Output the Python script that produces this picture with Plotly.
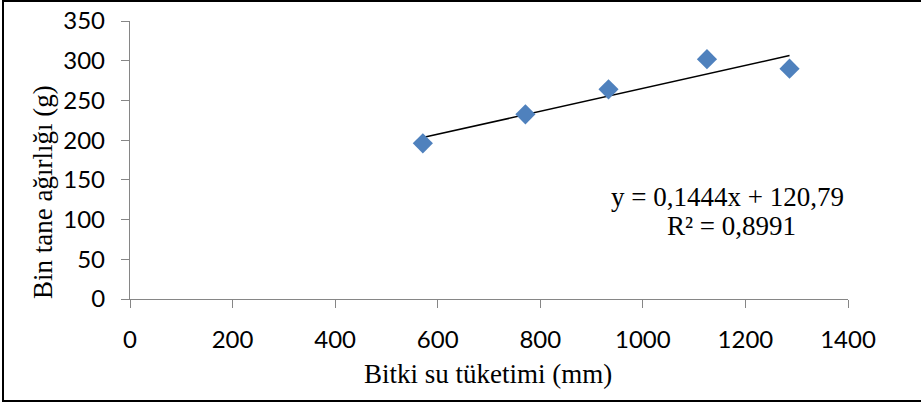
import plotly.graph_objects as go

# Water use vs. thousand-grain weight
water_use = [571, 771, 933, 1125, 1286]          # Bitki su tüketimi (mm)
grain_weight = [196, 232.5, 264, 302, 290]       # Bin tane ağırlığı (g)

# Linear trend reported on the chart
slope = 0.1444
intercept = 120.79
r_squared = 0.8991

x_ticks = [0, 200, 400, 600, 800, 1000, 1200, 1400]
y_ticks = [0, 50, 100, 150, 200, 250, 300, 350]

W, H = 921, 403
ml, mr, mt, mb = 130, 73, 21, 104
pw, ph = W - ml - mr, H - mt - mb

def px_x(p):
    return (p - ml) / pw

def px_y(p):
    return (H - mb - p) / ph

trend_x = [min(water_use), max(water_use)]
trend_y = [slope * v + intercept for v in trend_x]

fig = go.Figure()
fig.add_trace(go.Scatter(
    x=trend_x, y=trend_y, mode="lines",
    line=dict(color="black", width=1.6),
    hoverinfo="skip", showlegend=False,
))
fig.add_trace(go.Scatter(
    x=water_use, y=grain_weight, mode="markers",
    marker=dict(symbol="diamond", size=15.5, color="#4F81BD",
                line=dict(width=0)),
    showlegend=False,
))

def fmt(v, nd):
    return f"{v:.{nd}f}".replace(".", ",")

serif = dict(family="Liberation Serif", size=27, color="black")

fig.add_annotation(
    x=px_x(727), y=px_y(197), xref="paper", yref="paper",
    text=f"y = {fmt(slope, 4)}x + {fmt(intercept, 2)}",
    showarrow=False, xanchor="center", yanchor="middle", font=serif,
)
fig.add_annotation(
    x=px_x(731), y=px_y(226), xref="paper", yref="paper",
    text=f"R² = {fmt(r_squared, 4)}",
    showarrow=False, xanchor="center", yanchor="middle", font=serif,
)

# Axis titles
fig.add_annotation(
    x=px_x(488), y=px_y(374), xref="paper", yref="paper",
    text="Bitki su tüketimi (mm)",
    showarrow=False, xanchor="center", yanchor="middle", font=serif,
)
fig.add_annotation(
    x=px_x(43), y=px_y(192), xref="paper", yref="paper",
    text="Bin tane ağırlığı (g)", textangle=-90,
    showarrow=False, xanchor="center", yanchor="middle", font=serif,
)

# Outer chart frame
fig.add_shape(
    type="rect", xref="paper", yref="paper",
    x0=px_x(3), x1=px_x(940), y0=px_y(401), y1=px_y(1),
    line=dict(color="black", width=2), fillcolor="rgba(0,0,0,0)",
    layer="below",
)

axis_common = dict(
    showgrid=False, zeroline=False, showline=True, automargin=False,
    linecolor="#868686", linewidth=1.3,
    ticks="outside", tickcolor="#868686", ticklen=8, tickwidth=1.3,
    tickfont=dict(family="Lato", size=24, color="black"),
)

fig.update_layout(
    width=W, height=H,
    margin=dict(l=ml, r=mr, t=mt, b=mb, autoexpand=False),
    paper_bgcolor="white", plot_bgcolor="white",
    xaxis=dict(range=[0, 1400], tickvals=x_ticks, ticklabelstandoff=11,
               **axis_common),
    yaxis=dict(range=[0, 350], tickvals=y_ticks, ticklabelstandoff=11,
               **axis_common),
)

fig.write_html("out.html")
